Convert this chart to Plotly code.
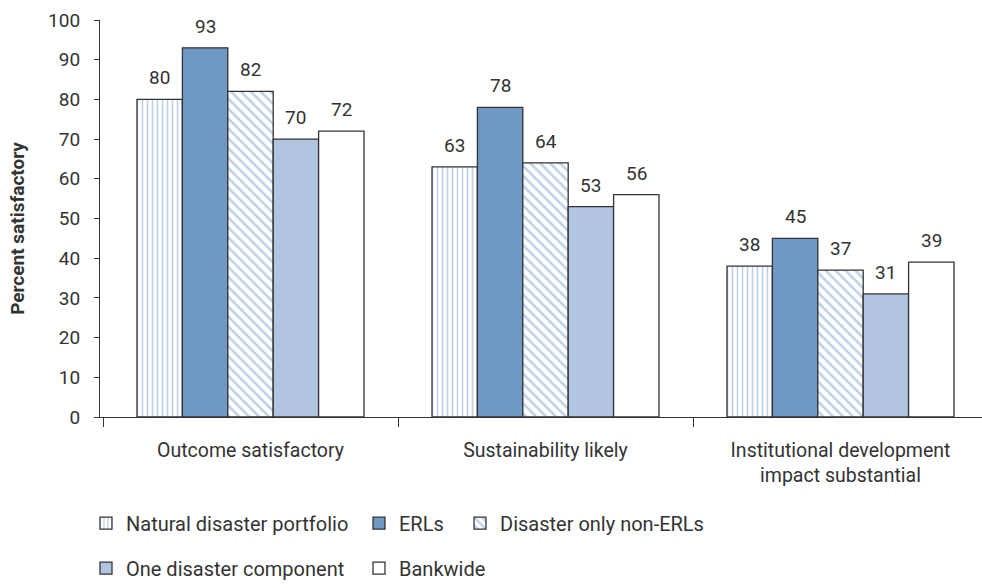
import plotly.graph_objects as go

categories = ["Outcome satisfactory", "Sustainability likely", "Institutional development<br>impact substantial"]
series_names = ["Natural disaster portfolio", "ERLs", "Disaster only non-ERLs", "One disaster component", "Bankwide"]
natural = [80, 63, 38]
erls = [93, 78, 45]
non_erls = [82, 64, 37]
one_comp = [70, 53, 31]
bankwide = [72, 56, 39]
y_ticks = list(range(0, 101, 10))
y_title = "Percent satisfactory"

values = [natural, erls, non_erls, one_comp, bankwide]
BLUE = "#7098C5"
LIGHT = "#B1C5E1"
PAT = "#779DCD"
LINE = "#333333"
FONT = "Roboto, Liberation Sans, Arial, sans-serif"
TXT = "#333333"

styles = [
    dict(color="white", pattern=dict(shape="|", fgcolor=PAT, size=5, solidity=0.3, bgcolor="white")),
    dict(color=BLUE),
    dict(color="white", pattern=dict(shape="\\", fgcolor=PAT, size=7, solidity=0.35, bgcolor="white")),
    dict(color=LIGHT),
    dict(color="white"),
]
legend_of = ["legend", "legend2", "legend3", "legend", "legend2"]

W, H = 982, 588
ml, mt, mb, mr = 100, 20, 165, 0
plot_w = W - ml - mr
plot_h = H - mt - mb
cat_px = 295.0
x0 = -0.5 - 3.0 / cat_px
x1 = x0 + plot_w / cat_px
bargap = 0.2305

fig = go.Figure()
for i, (name, vals) in enumerate(zip(series_names, values)):
    fig.add_trace(go.Bar(
        x=categories, y=vals, name=name,
        marker=dict(line=dict(color=LINE, width=1.3), **styles[i]),
        legend=legend_of[i], legendgroup=name,
    ))

w = (1 - bargap) / len(series_names)
for j, vals in enumerate(values):
    for i, v in enumerate(vals):
        fig.add_annotation(x=i + (j - 2) * w, y=v, text=str(v), showarrow=False,
                           yanchor="bottom", yshift=8,
                           font=dict(family=FONT, size=19, color=TXT))

def px_x(px):
    return (px - ml) / plot_w
def px_y(py):
    return (H - mb - py) / plot_h

fig.add_annotation(text="<b>" + y_title + "</b>", textangle=-90, showarrow=False,
                   xref="paper", yref="paper", x=px_x(18), y=px_y(232),
                   xanchor="center", yanchor="middle",
                   font=dict(family=FONT, size=19, color=TXT))

leg_common = dict(orientation="v", font=dict(family=FONT, size=20, color=TXT),
                  tracegroupgap=16, bgcolor="rgba(0,0,0,0)", yanchor="top",
                  xanchor="left", itemclick=False, itemdoubleclick=False)
leg_top = px_y(511)

fig.update_layout(
    width=W, height=H,
    margin=dict(l=ml, r=mr, t=mt, b=mb),
    paper_bgcolor="white", plot_bgcolor="white",
    barmode="group", bargap=bargap, bargroupgap=0,
    font=dict(family=FONT, size=19, color=TXT),
    showlegend=True,
    legend=dict(x=px_x(86), y=leg_top, **leg_common),
    legend2=dict(x=px_x(359), y=leg_top, **leg_common),
    legend3=dict(x=px_x(460), y=leg_top, **leg_common),
    xaxis=dict(range=[x0, x1], showline=True, linecolor=LINE, linewidth=1.2,
               ticks="outside", tickson="boundaries", ticklen=9, tickcolor=LINE,
               tickwidth=1.2,
               tickfont=dict(family=FONT, size=19.5, color=TXT), showgrid=False,
               ticklabelstandoff=15),
    yaxis=dict(range=[0, 100], tickvals=y_ticks, showline=True, linecolor=LINE,
               linewidth=1.2, ticks="outside", ticklen=5, tickcolor=LINE, tickwidth=1.2,
               showgrid=False, zeroline=False, ticklabelstandoff=10,
               tickfont=dict(family=FONT, size=19, color=TXT)),
)
fig.write_html("out.html")
